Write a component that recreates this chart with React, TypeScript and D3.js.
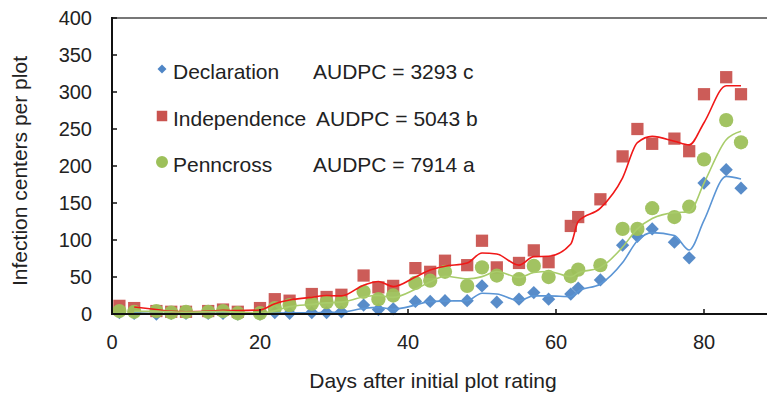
import * as d3 from "d3"

const days = [1, 3, 6, 8, 10, 13, 15, 17, 20, 22, 24, 27, 29, 31, 34, 36, 38, 41, 43, 45, 48, 50, 52, 55, 57, 59, 62, 63, 66, 69, 71, 73, 76, 78, 80, 83, 85]

const declaration = [2, 1, 0, 1, 1, 1, 1, 0, 0, 2, 1, 2, 2, 3, 12, 6, 7, 17, 17, 18, 18, 38, 16, 20, 29, 20, 27, 35, 46, 93, 105, 115, 97, 76, 177, 195, 170]
const independence = [11, 8, 4, 3, 3, 4, 6, 3, 8, 20, 18, 27, 23, 26, 52, 36, 38, 62, 57, 72, 66, 99, 63, 69, 86, 70, 119, 131, 155, 213, 250, 230, 237, 220, 297, 320, 297]
const penncross = [4, 3, 4, 2, 3, 3, 4, 1, 1, 8, 12, 14, 16, 16, 30, 20, 25, 42, 45, 57, 38, 63, 52, 47, 65, 50, 51, 60, 66, 115, 115, 143, 131, 145, 209, 262, 232]

const seriesNames = ["Declaration", "Independence", "Penncross"]
const audpcLabels = ["AUDPC = 3293 c", "AUDPC = 5043 b", "AUDPC = 7914 a"]

const yTicks = [0, 50, 100, 150, 200, 250, 300, 350, 400]
const xTicks = [0, 20, 40, 60, 80]

const W = 767
const H = 394
const FONT = "'Liberation Sans', Arial, sans-serif"

export default function App() {
  const x = d3.scaleLinear().domain([0, 100]).range([112, 852])
  const y = d3.scaleLinear().domain([0, 400]).range([314, 18])

  const series = [
    { name: seriesNames[0], values: declaration, fill: "#4F86C6", line: "#5B95D5", shape: "diamond" },
    { name: seriesNames[1], values: independence, fill: "#C9534F", line: "#F01818", shape: "square" },
    { name: seriesNames[2], values: penncross, fill: "#9DC05A", line: "#A8CC6A", shape: "circle" },
  ]

  // 2-period moving average trendline (as the spreadsheet draws it)
  const trend = (values: number[]) =>
    days.slice(1).map((d, i) => ({ d, v: (values[i] + values[i + 1]) / 2 }))

  const line = d3
    .line<{ d: number; v: number }>()
    .x((p) => x(p.d))
    .y((p) => y(p.v))
    .curve(d3.curveMonotoneX)

  const marker = (shape: string, size: number) => {
    if (shape === "circle") return d3.symbol(d3.symbolCircle, size)()
    return d3.symbol(d3.symbolSquare, size)()
  }

  const legendRows = [69, 116, 162]

  return (
    <svg width={W} height={H} style={{ position: "absolute", left: 0, top: 0, background: "#fff" }}>
      <defs>
        <clipPath id="plot">
          <rect x={112} y={0} width={W - 112} height={330} />
        </clipPath>
      </defs>

      {/* plot frame */}
      <line x1={112} x2={W} y1={18} y2={18} stroke="#777" strokeWidth={2} />

      {/* markers */}
      <g clipPath="url(#plot)">
        {series.map((s) =>
          s.values.map((v, i) => (
            <path
              key={s.name + i}
              d={marker(s.shape, s.shape === "diamond" ? 88 : s.shape === "square" ? 150 : 160) ?? ""}
              transform={`translate(${x(days[i])},${y(v)})${s.shape === "diamond" ? " rotate(45)" : ""}`}
              fill={s.fill}
              opacity={0.95}
            />
          ))
        )}
        {series.map((s) => (
          <path
            key={s.name + "-trend"}
            d={line(trend(s.values)) ?? ""}
            fill="none"
            stroke={s.line}
            strokeWidth={1.6}
          />
        ))}
      </g>

      {/* axes */}
      <line x1={112} x2={112} y1={17} y2={315} stroke="#111" strokeWidth={2} />
      <line x1={111} x2={W} y1={314} y2={314} stroke="#111" strokeWidth={2} />
      {yTicks.map((t) => (
        <g key={"y" + t}>
          <line x1={112} x2={117} y1={y(t)} y2={y(t)} stroke="#111" strokeWidth={1.5} />
          <text x={92} y={y(t)} dy="0.36em" textAnchor="end" fontFamily={FONT} fontSize={20} fill="#222">
            {t}
          </text>
        </g>
      ))}
      {xTicks.map((t) => (
        <g key={"x" + t}>
          <line x1={x(t)} x2={x(t)} y1={314} y2={309} stroke="#111" strokeWidth={1.5} />
          <text x={x(t)} y={349} textAnchor="middle" fontFamily={FONT} fontSize={20} fill="#222">
            {t}
          </text>
        </g>
      ))}

      {/* axis titles */}
      <text x={433} y={388} textAnchor="middle" fontFamily={FONT} fontSize={21} fill="#222">
        Days after initial plot rating
      </text>
      <text
        transform={`translate(27,171) rotate(-90)`}
        textAnchor="middle"
        fontFamily={FONT}
        fontSize={21}
        fill="#222"
      >
        Infection centers per plot
      </text>

      {/* legend */}
      {series.map((s, i) => (
        <g key={s.name + "-legend"}>
          <path
            d={marker(s.shape, s.shape === "diamond" ? 40 : s.shape === "square" ? 110 : 113) ?? ""}
            transform={`translate(162,${legendRows[i]})${s.shape === "diamond" ? " rotate(45)" : ""}`}
            fill={s.fill}
          />
          <text x={173} y={legendRows[i] + 10} fontFamily={FONT} fontSize={21} fill="#222">
            {s.name}
          </text>
          <text x={i === 1 ? 316 : 313} y={legendRows[i] + 10} fontFamily={FONT} fontSize={21} fill="#222">
            {audpcLabels[i]}
          </text>
        </g>
      ))}
    </svg>
  )
}
